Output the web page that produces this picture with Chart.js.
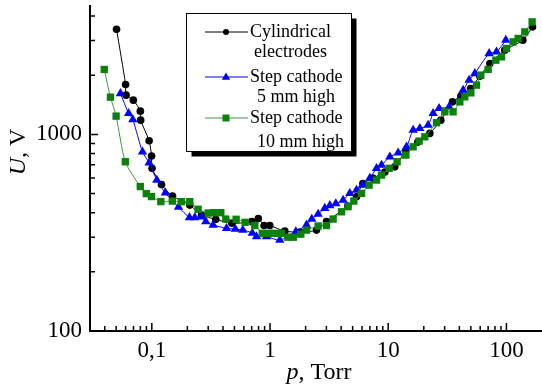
<!DOCTYPE html>
<html>
<head>
<meta charset="utf-8">
<script src="https://cdn.jsdelivr.net/npm/chart.js@4"></script>
<style>
  html, body { margin: 0; padding: 0; background: #fff; }
  canvas { display: block; }
</style>
</head>
<body>
<canvas id="chart" width="542" height="387"></canvas>
<script>
// values: p in Torr, U in V
const cylP = [0.0503, 0.0600, 0.0606, 0.0698, 0.0800, 0.0805, 0.0949, 0.0995, 0.1005, 0.1208, 0.1497, 0.2097, 0.2634, 0.3478, 0.4752, 0.7015, 0.7960, 0.8915, 0.996, 1.334, 1.787, 2.474, 3.006, 4.55, 5.39, 6.10, 7.41, 9.36, 11.37, 14.09, 17.80, 22.48, 27.86, 34.99, 41.14, 49.7, 59.6, 72.4, 96.9, 137.6, 166.3]
const cylU = [3430, 1795, 1584, 1494, 1313, 1182, 928, 776, 672, 556, 486, 437, 389, 370, 353, 360, 373, 344, 344, 322, 319, 326, 360, 432, 482, 563, 599, 643, 684, 825, 914, 1012, 1182, 1464, 1565, 1713, 1979, 2296, 2683, 3016, 3524]

const step5P = [0.0543, 0.0636, 0.0691, 0.0834, 0.0949, 0.1103, 0.1301, 0.1682, 0.2084, 0.2311, 0.2634, 0.2863, 0.3301, 0.4285, 0.5087, 0.5886, 0.7085, 0.7685, 0.934, 1.210, 1.653, 2.036, 2.257, 2.553, 2.908, 3.206, 3.603, 4.153, 4.732, 5.39, 6.06, 6.99, 7.96, 8.78, 10.32, 12.13, 14.28, 16.25, 18.51, 21.76, 23.99, 26.96, 32.75, 43.03, 48.35, 54.04, 71.4, 82.45, 98.8]
const step5U = [1616, 1279, 1189, 815, 717, 586, 504, 427, 378, 378, 381, 360, 346, 333, 330, 326, 315, 302, 302, 290, 320, 346, 371, 393, 421, 435, 445, 463, 501, 521, 552, 599, 672, 698, 769, 806, 865, 1052, 1073, 1115, 1279, 1356, 1381, 1680, 1889, 2042, 2581, 2630, 3016]

const step10P = [0.0396, 0.0447, 0.0499, 0.0597, 0.0799, 0.0898, 0.0994, 0.1192, 0.1491, 0.1777, 0.2097, 0.2464, 0.2995, 0.3346, 0.3835, 0.4227, 0.5167, 0.6155, 0.7437, 0.8607, 0.9768, 1.098, 1.251, 1.415, 1.575, 1.822, 2.036, 2.553, 3.006, 3.419, 4.027, 4.578, 5.117, 5.945, 6.89, 7.96, 8.78, 10.18, 11.89, 14.09, 16.25, 18.26, 20.40, 25.62, 30.12, 35.40, 40.35, 44.46, 49.98, 55.85, 60.72, 70.0, 81.35, 90.9, 100.2, 114.0, 125.6, 143.1, 165.0]
const step10U = [2140, 1547, 1239, 726, 543, 500, 483, 455, 458, 455, 455, 416, 398, 400, 400, 371, 370, 357, 344, 314, 314, 314, 314, 300, 300, 311, 326, 342, 344, 371, 404, 429, 458, 501, 552, 586, 621, 672, 726, 785, 865, 925, 972, 1148, 1303, 1303, 1464, 1553, 1627, 1781, 2002, 2140, 2386, 2480, 2736, 2957, 3077, 3323, 3737]

const legendLines = [["Cylindrical", "electrodes"], ["Step cathode", "5 mm high"], ["Step cathode", "10 mm high"]]

// axis ticks
const xLabelTicks = [0.1, 1, 10, 100]
const xLabelText = ["0,1", "1", "10", "100"]
const xMinorTicks = [0.04, 0.05, 0.06, 0.07, 0.08, 0.09, 0.2, 0.3, 0.4, 0.5, 0.6, 0.7, 0.8, 0.9, 2, 3, 4, 5, 6, 7, 8, 9, 20, 30, 40, 50, 60, 70, 80, 90]
const yLabelTicks = [100, 1000]
const yLabelText = ["100", "1000"]
const yMinorTicks = [200, 300, 400, 500, 600, 700, 800, 900, 2000, 3000, 4000]

const SERIF = "'Liberation Serif', 'Times New Roman', serif"
const GREEN_PT = "#0a820a"
const GREEN_LN = "#3a9a3a"

function toPoints(xs, ys) {
    return xs.map((x, i) => ({x: x, y: ys[i]}))
}

// tick marks pointing into the plot, like the original
let inwardTicks = {
    id: "inwardTicks",
    afterDatasetsDraw(chart) {
        let ctx = chart.ctx
        let xs = chart.scales.x, ys = chart.scales.y
        let area = chart.chartArea
        ctx.save()
        ctx.strokeStyle = "#000"
        ctx.lineWidth = 1.5
        ctx.beginPath()
        xLabelTicks.forEach(v => { let px = xs.getPixelForValue(v); ctx.moveTo(px, area.bottom); ctx.lineTo(px, area.bottom - 8) })
        xMinorTicks.forEach(v => { let px = xs.getPixelForValue(v); ctx.moveTo(px, area.bottom); ctx.lineTo(px, area.bottom - 5) })
        yLabelTicks.forEach(v => { let py = ys.getPixelForValue(v); ctx.moveTo(area.left, py); ctx.lineTo(area.left + 8, py) })
        yMinorTicks.forEach(v => { let py = ys.getPixelForValue(v); ctx.moveTo(area.left, py); ctx.lineTo(area.left + 5, py) })
        ctx.stroke()
        ctx.restore()
    }
}

// axis titles with italic symbols
let axisTitles = {
    id: "axisTitles",
    afterDraw(chart) {
        let ctx = chart.ctx
        let area = chart.chartArea
        function mixed(parts, cx, cy) {
            let widths = parts.map(p => { ctx.font = p[1] + " 24px " + SERIF; return ctx.measureText(p[0]).width })
            let total = widths.reduce((a, b) => a + b, 0)
            let x = cx - total / 2
            parts.forEach((p, i) => {
                ctx.font = p[1] + " 24px " + SERIF
                ctx.fillText(p[0], x, cy)
                x += widths[i]
            })
        }
        ctx.save()
        ctx.fillStyle = "#000"
        ctx.textBaseline = "middle"
        ctx.textAlign = "left"
        mixed([["p", "italic"], [", Torr", "normal"]], (area.left + area.right) / 2 + 3, 373)
        ctx.translate(19, 152)
        ctx.rotate(-Math.PI / 2)
        mixed([["U", "italic"], [", V", "normal"]], 0, 0)
        ctx.restore()
    }
}

// boxed legend with a drop shadow and two-line labels
let boxLegend = {
    id: "boxLegend",
    afterDraw(chart) {
        let ctx = chart.ctx
        let bx = 186.5, by = 13.5, bw = 165, bh = 138
        ctx.save()
        ctx.fillStyle = "#000"
        ctx.fillRect(bx + 5, by + 5, bw, bh)
        ctx.fillStyle = "#fff"
        ctx.fillRect(bx, by, bw, bh)
        ctx.strokeStyle = "#000"
        ctx.lineWidth = 1
        ctx.strokeRect(bx, by, bw, bh)

        let rows = [32, 77, 118]
        let secondRows = [52, 97, 142]
        let secondX = [254, 257, 257]
        chart.data.datasets.slice().sort((a, b) => b.order - a.order).forEach((ds, i) => {
            let y = rows[i]
            ctx.strokeStyle = ds.borderColor
            ctx.lineWidth = 1
            ctx.beginPath()
            ctx.moveTo(205, y)
            ctx.lineTo(248, y)
            ctx.stroke()
            ctx.fillStyle = ds.pointBackgroundColor
            let cx = 226
            ctx.beginPath()
            if (ds.pointStyle === "circle") {
                ctx.arc(cx, y, 3, 0, Math.PI * 2)
            } else if (ds.pointStyle === "triangle") {
                ctx.moveTo(cx, y - 4.5); ctx.lineTo(cx + 4.2, y + 2.7); ctx.lineTo(cx - 4.2, y + 2.7); ctx.closePath()
            } else {
                ctx.rect(cx - 3.5, y - 3.5, 7, 7)
            }
            ctx.fill()

            ctx.fillStyle = "#000"
            ctx.font = "18px " + SERIF
            ctx.textBaseline = "middle"
            ctx.textAlign = "left"
            ctx.fillText(legendLines[i][0], 250, y)
            ctx.fillText(legendLines[i][1], secondX[i], secondRows[i])
        })
        ctx.restore()
    }
}

let tickFont = {family: SERIF, size: 23}

let chart = new Chart(document.getElementById("chart").getContext("2d"), {
    type: "line",
    data: {
        datasets: [
            {
                label: legendLines[0].join(" "),
                data: toPoints(cylP, cylU),
                order: 3,
                borderColor: "#000",
                borderWidth: 1,
                pointStyle: "circle",
                pointRadius: 3.8,
                pointBackgroundColor: "#000",
                pointBorderColor: "#000",
                pointBorderWidth: 0,
            },
            {
                label: legendLines[1].join(" "),
                data: toPoints(step5P, step5U),
                order: 2,
                borderColor: "#0000ff",
                borderWidth: 1,
                pointStyle: "triangle",
                pointRadius: 5.4,
                pointBackgroundColor: "#0000ff",
                pointBorderColor: "#0000ff",
                pointBorderWidth: 0,
            },
            {
                label: legendLines[2].join(" "),
                data: toPoints(step10P, step10U),
                order: 1,
                borderColor: GREEN_LN,
                borderWidth: 1,
                pointStyle: "rect",
                pointRadius: 5.2,
                pointBackgroundColor: GREEN_PT,
                pointBorderColor: GREEN_PT,
                pointBorderWidth: 0,
            },
        ]
    },
    options: {
        responsive: false,
        devicePixelRatio: 1,
        animation: false,
        layout: { autoPadding: false, padding: { top: 6, right: 0, left: 0, bottom: 0 } },
        elements: {
            line: { tension: 0.25 }
        },
        plugins: {
            legend: { display: false },
            tooltip: { enabled: false }
        },
        scales: {
            x: {
                type: "logarithmic",
                min: 0.03,
                max: 200,
                grid: { display: false, drawTicks: false },
                border: { display: true, color: "#000", width: 2 },
                ticks: {
                    color: "#000",
                    font: tickFont,
                    padding: 6,
                    autoSkip: false,
                    maxRotation: 0,
                    callback: (v) => {
                        let i = xLabelTicks.indexOf(v)
                        return i < 0 ? "" : xLabelText[i]
                    }
                },
                afterBuildTicks: (s) => { s.ticks = xLabelTicks.map(v => ({value: v})) },
                // fixed axis band, no extra label overhang padding
                afterFit: (s) => { s.height = 56; s.paddingLeft = 0; s.paddingRight = 0 }
            },
            y: {
                type: "logarithmic",
                min: 100,
                max: 4500,
                grid: { display: false, drawTicks: false },
                border: { display: true, color: "#000", width: 2 },
                ticks: {
                    color: "#000",
                    font: tickFont,
                    padding: 8,
                    autoSkip: false,
                    callback: (v) => {
                        let i = yLabelTicks.indexOf(v)
                        return i < 0 ? "" : yLabelText[i]
                    }
                },
                afterBuildTicks: (s) => { s.ticks = yLabelTicks.map(v => ({value: v})) },
                afterFit: (s) => { s.width = 90; s.paddingTop = 0; s.paddingBottom = 0 }
            }
        }
    },
    plugins: [inwardTicks, axisTitles, boxLegend]
})
</script>
</body>
</html>
